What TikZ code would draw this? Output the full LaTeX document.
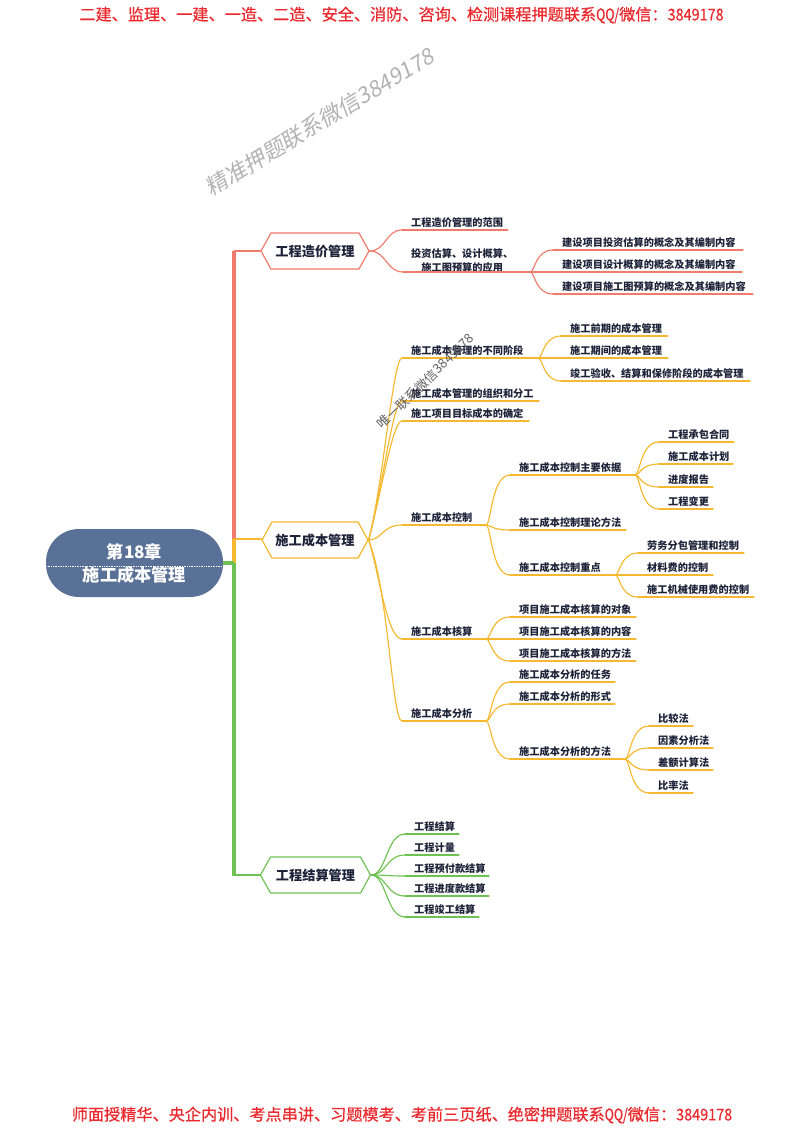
\documentclass[tikz,border=0pt]{standalone}
\usepackage{fontspec}
\usetikzlibrary{calc,shapes.symbols}
\setmainfont{Noto Sans CJK SC}
\newfontfamily\wmfont[FakeSlant=0.18]{Noto Sans CJK SC}
\newfontfamily\headfont[FakeBold=0.7]{Noto Sans CJK SC}
\definecolor{cred}{HTML}{F07A6C}
\definecolor{cyel}{HTML}{F5B82E}
\definecolor{cgrn}{HTML}{6EC253}
\definecolor{croot}{HTML}{5A7197}
\definecolor{cink}{HTML}{1C2238}
\definecolor{chead}{HTML}{EA2A2E}
\tikzset{
  lab/.style={inner sep=0pt,font=\fontsize{10.2}{12}\selectfont\bfseries,text=cink},
  branch/.style={line width=1.15pt,line cap=round},
  stem/.style={line width=4.6pt},
  hex/.style={shape=signal,signal to=west and east,signal pointer angle=122,draw,line width=1.2pt,
    inner sep=0pt,minimum height=36pt,font=\fontsize{13.2}{15}\selectfont\bfseries,text=cink},
  rootbox/.style={fill=croot,rounded corners=33pt,minimum width=177pt,minimum height=68pt,inner sep=0pt,
    align=center,text=white,font=\fontsize{17.2}{23}\selectfont\bfseries},
  headline/.style={inner sep=0pt,text=chead,font=\fontsize{16.15}{18}\headfont},
  wmark/.style={inner sep=0pt}
}
\newcommand\topic[6]{%
  \node[lab,anchor=base west] (#2) at (#3,#5-3.4) {#6};
  \coordinate (#2-l) at (#3-9,#5);
  \coordinate (#2-r) at (#4,#5);
  \draw[branch,#1] (#2-l) -- (#2-r);
}
\newcommand\conn[4][.22]{%
  \draw[branch,#2] (#3) .. controls ($(#3)!#1!(#3-|#4)$) and ($(#3|-#4)!#1!(#4)$) .. (#4);
}
% connector with hand-set handles: colour, from, to, first handle offset, second handle offset
\newcommand\connx[5]{%
  \draw[branch,#1] (#2) .. controls ($(#2)+(#4)$) and ($(#3)+(#5)$) .. (#3);
}
\newcommand\latin[2]{\resizebox{#1pt}{\height}{#2}}
\begin{document}
\begin{tikzpicture}[x=1pt,y=-1pt]
\useasboundingbox (0,0) rectangle (800,1132);
% header and footer
\node[headline] (head) at (401.5,15) {二建、监理、一建、一造、二造、安全、消防、咨询、检测课程押题联系\latin{23}{QQ/}微信：\latin{56}{3849178}};
\node[headline] (foot) at (402,1115) {师面授精华、央企内训、考点串讲、习题模考、考前三页纸、绝密押题联系\latin{23}{QQ/}微信：\latin{56}{3849178}};
% watermark 1
\node[wmark,rotate=31,text=black!30,font=\fontsize{22.1}{24}\wmfont] (wm1) at (319.5,122) {精准押题联系微信3849178};
% root and stems
\node[rootbox] (root) at (134.5,563) {\raisebox{-1pt}{第18章}\\\raisebox{-1pt}{施工成本管理}};
\coordinate (dl) at (46,566); \coordinate (dr) at (223,566);
\draw[white,line width=.7pt,densely dotted] (dl) -- (dr);
\coordinate (s1) at (234,251); \coordinate (s2) at (234,539); \coordinate (s3) at (234,563); \coordinate (s4) at (234,875);
\draw[stem,cred,line cap=butt] ($(s1)+(0,-.5)$) -- (s2);
\draw[stem,cyel] (s2) -- (s3);
\draw[stem,cgrn] (s3) -- ($(s4)+(0,.5)$);
\draw[cgrn,line width=4.4pt] (root.east|-s3) -- (s3);
% hexagons
\node[hex,draw=cred,minimum width=108pt] (h1) at (315,251) {工程造价管理};
\node[hex,draw=cyel,minimum width=106pt] (h2) at (315,540) {施工成本管理};
\node[hex,draw=cgrn,minimum width=110pt] (h3) at (315.5,875) {工程结算管理};
\draw[branch,cred] (s1) -- (h1.west);
\draw[branch,cyel] (s2) -- (h2.west|-s2);
\draw[branch,cgrn] (s4) -- (h3.west);
\coordinate (o1) at (h1.east); \coordinate (o2) at (h2.east); \coordinate (o3) at (h3.east);
% group A
\topic{cred}{a1}{411}{508}{230}{工程造价管理的范围}
\node[lab,align=center,anchor=south west,font=\fontsize{10.2}{13.5}\selectfont\bfseries] (a2) at (411,272.5) {投资估算、设计概算、\\施工图预算的应用};
\coordinate (a2-l) at (403,272); \coordinate (a2-r) at (530,272);
\draw[branch,cred] (a2-l) -- (a2-r);
\topic{cred}{a21}{562}{743}{250}{建设项目投资估算的概念及其编制内容}
\topic{cred}{a22}{562}{742}{272}{建设项目设计概算的概念及其编制内容}
\topic{cred}{a23}{562}{753}{294}{建设项目施工图预算的概念及其编制内容}
\conn[.5]{cred}{o1}{a1-l}\conn[.5]{cred}{o1}{a2-l}
\conn{cred}{a2-r}{a21-l}\conn{cred}{a2-r}{a22-l}\conn{cred}{a2-r}{a23-l}
% group B
\topic{cyel}{b1}{411}{538}{358}{施工成本管理的不同阶段}
\topic{cyel}{b2}{411}{539}{401}{施工成本管理的组织和分工}
\topic{cyel}{b3}{411}{529}{421}{施工项目目标成本的确定}
\topic{cyel}{b11}{570}{668}{336}{施工前期的成本管理}
\topic{cyel}{b12}{570}{668}{358}{施工期间的成本管理}
\topic{cyel}{b13}{570}{750}{381}{竣工验收、结算和保修阶段的成本管理}
\topic{cyel}{b4}{411}{486}{525}{施工成本控制}
\topic{cyel}{b41}{519}{635}{475}{施工成本控制主要依据}
\topic{cyel}{b411}{668}{734}{442}{工程承包合同}
\topic{cyel}{b412}{668}{733}{464}{施工成本计划}
\topic{cyel}{b413}{668}{713}{487}{进度报告}
\topic{cyel}{b414}{668}{713}{509}{工程变更}
\topic{cyel}{b42}{519}{626}{530}{施工成本控制理论方法}
\topic{cyel}{b43}{519}{615}{575}{施工成本控制重点}
\topic{cyel}{b431}{647}{744}{553}{劳务分包管理和控制}
\topic{cyel}{b432}{647}{713}{575}{材料费的控制}
\topic{cyel}{b433}{647}{754}{597}{施工机械使用费的控制}
\topic{cyel}{b5}{411}{486}{639}{施工成本核算}
\topic{cyel}{b51}{519}{636}{617}{项目施工成本核算的对象}
\topic{cyel}{b52}{519}{636}{639}{项目施工成本核算的内容}
\topic{cyel}{b53}{519}{636}{661}{项目施工成本核算的方法}
\topic{cyel}{b6}{411}{486}{721}{施工成本分析}
\topic{cyel}{b61}{519}{615}{682}{施工成本分析的任务}
\topic{cyel}{b62}{519}{615}{704}{施工成本分析的形式}
\topic{cyel}{b63}{519}{625}{759}{施工成本分析的方法}
\topic{cyel}{b631}{658}{693}{726}{比较法}
\topic{cyel}{b632}{658}{713}{748}{因素分析法}
\topic{cyel}{b633}{658}{713}{770}{差额计算法}
\topic{cyel}{b634}{658}{693}{793}{比率法}
\foreach \c in {b1,b2,b3}{\connx{cyel}{o2}{\c-l}{15,-59}{-9,0}}
\conn[.4]{cyel}{o2}{b4-l}
\connx{cyel}{o2}{b5-l}{10,31}{-15,0}
\connx{cyel}{o2}{b6-l}{20,51}{-10,0}
\foreach \c in {b11,b12,b13}{\conn{cyel}{b1-r}{\c-l}}
\foreach \c in {b41,b42,b43}{\conn{cyel}{b4-r}{\c-l}}
\foreach \c in {b411,b412,b413,b414}{\conn{cyel}{b41-r}{\c-l}}
\foreach \c in {b431,b432,b433}{\conn{cyel}{b43-r}{\c-l}}
\foreach \c in {b51,b52,b53}{\conn{cyel}{b5-r}{\c-l}}
\foreach \c in {b61,b62,b63}{\conn{cyel}{b6-r}{\c-l}}
\foreach \c in {b631,b632,b633,b634}{\conn{cyel}{b63-r}{\c-l}}
% group C
\topic{cgrn}{c1}{414}{459}{834}{工程结算}
\topic{cgrn}{c2}{414}{459}{855}{工程计量}
\topic{cgrn}{c3}{414}{489}{876}{工程预付款结算}
\topic{cgrn}{c4}{414}{489}{896}{工程进度款结算}
\topic{cgrn}{c5}{414}{479}{917}{工程竣工结算}
\foreach \c in {c1,c2,c3,c4,c5}{\conn[.45]{cgrn}{o3}{\c-l}}
% watermark 2
\node[wmark,rotate=44,text=black!62,font=\fontsize{13}{15}\selectfont] (wm2) at (425.5,381) {唯一联系微信3849178};
\end{tikzpicture}
\end{document}
